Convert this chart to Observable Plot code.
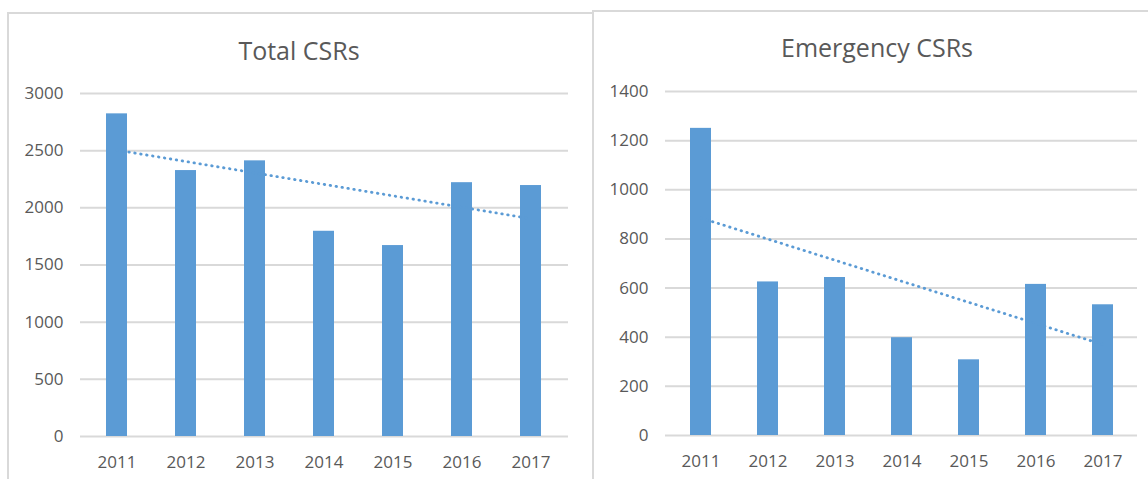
<!DOCTYPE html>
<html><head><meta charset="utf-8">
<script src="https://cdn.jsdelivr.net/npm/d3@7"></script>
<script src="https://cdn.jsdelivr.net/npm/@observablehq/plot@0.6"></script>
<style>
body{margin:0;background:#fff;width:1148px;height:479px;overflow:hidden;position:relative;font-family:"Open Sans",sans-serif;}
.panel{position:absolute;box-sizing:border-box;}
#p1{left:7px;top:12px;width:587px;height:520px;border:2px solid #d9d9d9;}
#p2{left:592px;top:10px;width:600px;height:520px;border-top:2px solid #d9d9d9;border-left:2px solid #d9d9d9;}
.title{position:absolute;color:#595959;font-size:25px;line-height:25px;transform:translateX(-50%);white-space:nowrap;}
.chart{position:absolute;top:0;}
</style>
</head><body>
<div class="panel" id="p1"></div>
<div class="panel" id="p2"></div>
<div class="title" id="t1" style="left:299px;top:38px;">Total CSRs</div>
<div class="title" id="t2" style="left:877px;top:35px;">Emergency CSRs</div>
<div class="chart" id="c1" style="left:0px;"></div>
<div class="chart" id="c2" style="left:593px;"></div>
<script>
const years = ["2011", "2012", "2013", "2014", "2015", "2016", "2017"];
const totalCSRs = [2822, 2326, 2411, 1795, 1670, 2220, 2195];
const emergencyCSRs = [1250, 625, 643, 398, 308, 615, 532];
const totalTicks = [0, 500, 1000, 1500, 2000, 2500, 3000];
const emergencyTicks = [0, 200, 400, 600, 800, 1000, 1200, 1400];
const trendYears = ["2011", "2017"];
const totalTrend = [2505, 1905];
const emergencyTrend = [885, 370];

const barColor = "#5B9BD5";
const gridColor = "#d9d9d9";
const textColor = "#595959";

function makeChart(values, ticks, trend, opts) {
  const rows = years.map((y, i) => ({year: y, value: values[i]}));
  const trendRows = trendYears.map((y, i) => ({year: y, value: trend[i]}));
  return Plot.plot({
    width: opts.width,
    height: 479,
    marginLeft: opts.ml,
    marginRight: opts.mr,
    marginTop: opts.mt,
    marginBottom: opts.mb,
    style: {background: "transparent", color: textColor, fontFamily: "'Open Sans', sans-serif", fontSize: "17px"},
    x: {domain: years, paddingInner: 0.69, paddingOuter: 0.345, tickSize: 0, tickPadding: 19, label: null},
    y: {domain: [ticks[0], ticks[ticks.length - 1]], ticks: ticks, tickSize: 0, tickPadding: 17, tickFormat: d => String(d), label: null},
    marks: [
      Plot.ruleY(ticks, {stroke: gridColor, strokeWidth: 2}),
      Plot.barY(rows, {x: "year", y: "value", fill: barColor}),
      Plot.line(trendRows, {x: "year", y: "value", stroke: barColor, strokeWidth: 2.8, strokeLinecap: "round", strokeDasharray: "0.5,5.5"})
    ]
  });
}

document.getElementById("c1").appendChild(makeChart(totalCSRs, totalTicks, totalTrend, {width: 592, ml: 80, mr: 24, mt: 93, mb: 43}));
document.getElementById("c2").appendChild(makeChart(emergencyCSRs, emergencyTicks, emergencyTrend, {width: 555, ml: 72, mr: 11, mt: 91, mb: 44}));
</script>
</body></html>
